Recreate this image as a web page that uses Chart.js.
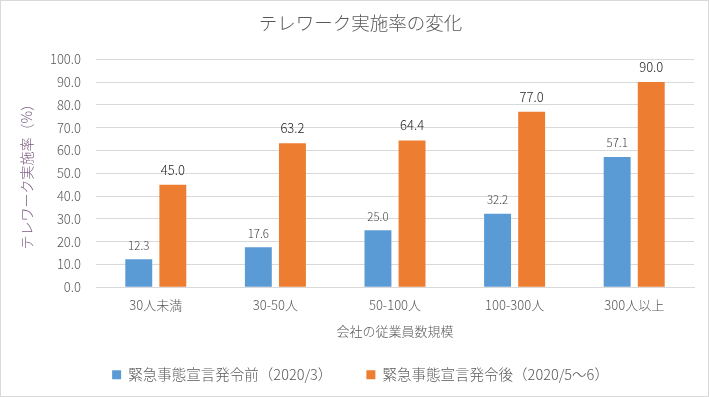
<!DOCTYPE html>
<html><head><meta charset="utf-8">
<script src="https://cdn.jsdelivr.net/npm/chart.js@4/dist/chart.umd.min.js"></script>
<style>
html,body{margin:0;padding:0;background:#fff;}
#wrap{position:relative;width:709px;height:397px;box-sizing:border-box;border:1px solid #D9D9D9;}
canvas{display:block;}
</style></head>
<body><div id="wrap"><canvas id="c" width="707" height="395"></canvas></div>
<script>
const categories = ['30人未満','30-50人','50-100人','100-300人','300人以上'];
const seriesNames = ['緊急事態宣言発令前（2020/3）','緊急事態宣言発令後（2020/5～6）'];
const beforeValues = [12.3, 17.6, 25.0, 32.2, 57.1];
const afterValues = [45.0, 63.2, 64.4, 77.0, 90.0];
const yMin = 0, yMax = 100, yStep = 10;

const FONT = "'Noto Sans CJK JP','Noto Sans',sans-serif";
const TXT = '#595959';

const valueLabels = {
  id:'valueLabels',
  afterDatasetsDraw(chart){
    const ctx = chart.ctx;
    chart.data.datasets.forEach((ds,i)=>{
      const meta = chart.getDatasetMeta(i);
      ctx.save();
      ctx.textAlign='center';
      ctx.textBaseline='middle';
      let off;
      if(i===0){ctx.font="300 11.5px "+FONT; ctx.fillStyle='#404040'; off=14;}
      else {ctx.font="300 13px "+FONT; ctx.fillStyle='#262626'; off=15;}
      meta.data.forEach((el,j)=>{
        ctx.fillText(ds.data[j].toFixed(1), el.x, el.y-off);
      });
      ctx.restore();
    });
  }
};

new Chart(document.getElementById('c'),{
  type:'bar',
  data:{
    labels:categories,
    datasets:[
      {label:seriesNames[0],data:beforeValues,backgroundColor:'#5B9BD5',categoryPercentage:0.57,barPercentage:0.79},
      {label:seriesNames[1],data:afterValues,backgroundColor:'#ED7D31',categoryPercentage:0.57,barPercentage:0.79}
    ]
  },
  options:{
    responsive:false,
    animation:false,
    layout:{padding:{left:12,right:0,top:0,bottom:4}},
    plugins:{
      title:{display:true,text:'テレワーク実施率の変化',color:TXT,font:{family:FONT,size:18.5,weight:300},padding:{top:11,bottom:25}},
      legend:{position:'bottom',labels:{color:TXT,font:{family:FONT,size:14.5,weight:300},boxWidth:9,boxHeight:9,padding:34,useBorderRadius:false}},
      tooltip:{enabled:false}
    },
    scales:{
      x:{
        grid:{display:false,drawTicks:false},
        border:{color:'#D9D9D9'},
        ticks:{color:TXT,font:{family:FONT,size:13,weight:300},padding:10},
        title:{display:true,text:'会社の従業員数規模',color:TXT,font:{family:FONT,size:13,weight:300},padding:{top:0,bottom:-5}}
      },
      y:{
        min:yMin,max:yMax,
        grid:{color:'#D9D9D9',drawTicks:false},
        border:{display:false},
        ticks:{stepSize:yStep,color:TXT,font:{family:FONT,size:13,weight:300},padding:15,callback:v=>v.toFixed(1)},
        title:{display:true,text:'テレワーク実施率（%）',color:'#7B5B80',font:{family:FONT,size:14,weight:300},padding:{top:5,bottom:0}},
        afterFit(s){s.width=83;}
      },
      yRight:{
        position:'right',
        display:true,
        min:yMin,max:yMax,
        grid:{display:false,drawTicks:false},
        border:{display:false},
        ticks:{display:false},
        afterFit(s){s.width=14;}
      }
    }
  },
  plugins:[valueLabels]
});
</script></body></html>
